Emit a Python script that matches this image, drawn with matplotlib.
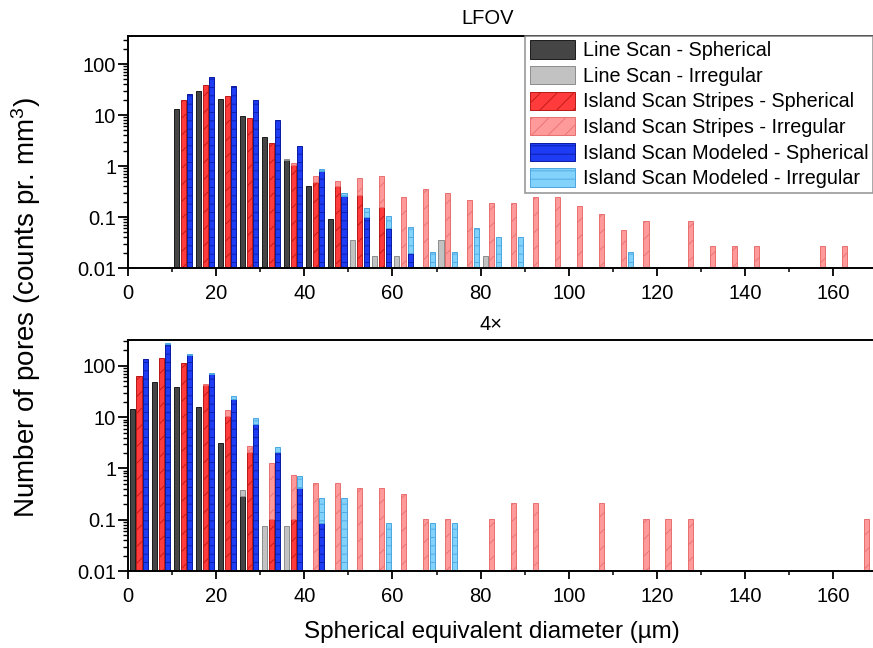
import numpy as np
import matplotlib
matplotlib.use("Agg")
import matplotlib.pyplot as plt
from matplotlib.ticker import LogLocator, FixedLocator, NullFormatter

plt.rcParams['font.family'] = ['Liberation Sans', 'DejaVu Sans']
plt.rcParams['mathtext.default'] = 'regular'
plt.rcParams['hatch.linewidth'] = 0.6

# ---- LFOV panel (5 um bins) ----
lfov_bins = [12.5, 17.5, 22.5, 27.5, 32.5, 37.5, 42.5, 47.5, 52.5, 57.5, 62.5,
             67.5, 72.5, 77.5, 82.5, 87.5, 92.5, 97.5, 102.5, 107.5, 112.5,
             117.5, 122.5, 127.5, 132.5, 137.5, 142.5, 147.5, 152.5, 157.5, 162.5]
lfov_line_sph = [12.9, 30, 20.4, 9.8, 3.7, 1.3, 0.41, 0.09, 0, 0, 0,
                 0, 0, 0, 0, 0, 0, 0, 0, 0, 0,
                 0, 0, 0, 0, 0, 0, 0, 0, 0, 0]
lfov_line_irr = [0, 0, 0, 0, 0, 0.07, 0, 0, 0.035, 0.017, 0.017,
                 0, 0.035, 0, 0.017, 0, 0, 0, 0, 0, 0,
                 0, 0, 0, 0, 0, 0, 0, 0, 0, 0]
lfov_stripes_sph = [19.6, 39, 23.4, 8.9, 2.8, 1.05, 0.48, 0.40, 0.27, 0.16, 0,
                    0, 0, 0, 0, 0, 0, 0, 0, 0, 0,
                    0, 0, 0, 0, 0, 0, 0, 0, 0, 0]
lfov_stripes_irr = [0, 0, 0, 0, 0, 0.08, 0.15, 0.12, 0.32, 0.49, 0.25,
                    0.355, 0.30, 0.215, 0.19, 0.19, 0.25, 0.25, 0.164, 0.113, 0.056,
                    0.083, 0, 0.083, 0.027, 0.027, 0.027, 0, 0, 0.027, 0.027]
lfov_modeled_sph = [25.4, 55, 37.6, 19.4, 7.9, 2.5, 0.80, 0.26, 0.10, 0.06, 0.02,
                    0, 0, 0, 0, 0, 0, 0, 0, 0, 0,
                    0, 0, 0, 0, 0, 0, 0, 0, 0, 0]
lfov_modeled_irr = [0, 0, 0, 0, 0, 0, 0.07, 0.03, 0.048, 0.045, 0.043,
                    0.021, 0.021, 0.062, 0.041, 0.041, 0, 0, 0, 0, 0.021,
                    0, 0, 0, 0, 0, 0, 0, 0, 0, 0]

# ---- 4x panel ----
x4_bins = [2.5, 7.5, 12.5, 17.5, 22.5, 27.5, 32.5, 37.5, 42.5, 47.5, 52.5,
           57.5, 62.5, 67.5, 72.5, 77.5, 82.5, 87.5, 92.5, 97.5, 102.5,
           107.5, 112.5, 117.5, 122.5, 127.5, 132.5, 137.5, 142.5, 147.5, 152.5,
           157.5, 162.5, 167.5]
x4_line_sph = [14.2, 48, 39, 15.7, 3.1, 0.29, 0, 0, 0, 0, 0,
               0, 0, 0, 0, 0, 0, 0, 0, 0, 0,
               0, 0, 0, 0, 0, 0, 0, 0, 0, 0,
               0, 0, 0]
x4_line_irr = [0, 0, 0, 0, 0, 0.09, 0.076, 0.076, 0, 0, 0,
               0, 0, 0, 0, 0, 0, 0, 0, 0, 0,
               0, 0, 0, 0, 0, 0, 0, 0, 0, 0,
               0, 0, 0]
x4_stripes_sph = [63, 144, 112, 42, 10.7, 2.1, 0.103, 0.103, 0, 0, 0,
                  0, 0, 0, 0, 0, 0, 0, 0, 0, 0,
                  0, 0, 0, 0, 0, 0, 0, 0, 0, 0,
                  0, 0, 0]
x4_stripes_irr = [0, 0, 0, 3, 3, 0.7, 1.15, 0.63, 0.53, 0.53, 0.41,
                  0.41, 0.32, 0.105, 0.105, 0, 0.105, 0.21, 0.21, 0, 0,
                  0.21, 0, 0.105, 0.105, 0.105, 0, 0, 0, 0, 0,
                  0, 0, 0.105]
x4_modeled_sph = [138, 265, 162, 68, 23, 7.3, 2.1, 0.42, 0.085, 0, 0,
                  0, 0, 0, 0, 0, 0, 0, 0, 0, 0,
                  0, 0, 0, 0, 0, 0, 0, 0, 0, 0,
                  0, 0, 0]
x4_modeled_irr = [0, 17, 10, 6, 3, 2.2, 0.5, 0.28, 0.175, 0.26, 0,
                  0.085, 0, 0.085, 0.085, 0, 0, 0, 0, 0, 0,
                  0, 0, 0, 0, 0, 0, 0, 0, 0, 0,
                  0, 0, 0]

labels = ['Line Scan - Spherical', 'Line Scan - Irregular',
          'Island Scan Stripes - Spherical', 'Island Scan Stripes - Irregular',
          'Island Scan Modeled - Spherical', 'Island Scan Modeled - Irregular']

# (face, edge, hatch) per series
styles = [('#454545', '#1a1a1a', None),
          ('#c2c2c2', '#8c8c8c', None),
          ('#ff3b3b', '#b81818', '//'),
          ('#ff9a9a', '#e87070', '//'),
          ('#1f3cf5', '#0a1aa0', '--'),
          ('#82d2fb', '#4aa6e0', '--')]

bar_w = 1.15
offsets = [-1.5, 0.0, 1.5]


def draw_panel(ax, bins, series):
    """Stacked (spherical + irregular) bars for the three scan strategies."""
    bins = np.array(bins)
    for k, (sph, irr) in enumerate(series):
        sph = np.array(sph, dtype=float)
        irr = np.array(irr, dtype=float)
        x = bins + offsets[k]
        fc, ec, h = styles[2 * k]
        m = sph > 0
        ax.bar(x[m], sph[m], width=bar_w, color=fc, edgecolor=ec,
               linewidth=0.7, hatch=h, label=labels[2 * k])
        fc, ec, h = styles[2 * k + 1]
        m = irr > 0
        ax.bar(x[m], irr[m], bottom=sph[m], width=bar_w, color=fc, edgecolor=ec,
               linewidth=0.7, hatch=h, label=labels[2 * k + 1])

    ax.set_yscale('log')
    ax.set_xlim(0, 169)
    ax.xaxis.set_major_locator(FixedLocator([0, 20, 40, 60, 80, 100, 120, 140, 160]))
    ax.xaxis.set_minor_locator(FixedLocator([10, 30, 50, 70, 90, 110, 130, 150]))
    ax.yaxis.set_major_locator(FixedLocator([0.01, 0.1, 1, 10, 100]))
    ax.yaxis.set_major_formatter(plt.FuncFormatter(lambda v, p: f'{v:g}'))
    ax.yaxis.set_minor_locator(LogLocator(base=10, subs=np.arange(2, 10)))
    ax.yaxis.set_minor_formatter(NullFormatter())
    ax.tick_params(axis='x', which='major', direction='out', length=5.5,
                   width=1.3, labelsize=14.5, pad=6)
    ax.tick_params(axis='x', which='minor', direction='out', length=3,
                   width=1.1)
    ax.tick_params(axis='y', which='major', direction='out', length=7,
                   width=1.3, labelsize=14.5, pad=1.5)
    ax.tick_params(axis='y', which='minor', direction='out', length=3.5,
                   width=1.0)
    ax.spines['right'].set_visible(False)
    for s in ('left', 'bottom', 'top'):
        ax.spines[s].set_linewidth(1.4)


fig = plt.figure(figsize=(8.73, 6.48), dpi=100)
ax1 = fig.add_axes([0.1466, 0.5864, 0.8534, 0.3580])
ax2 = fig.add_axes([0.1466, 0.1188, 0.8534, 0.3565])

draw_panel(ax1, lfov_bins, [(lfov_line_sph, lfov_line_irr),
                            (lfov_stripes_sph, lfov_stripes_irr),
                            (lfov_modeled_sph, lfov_modeled_irr)])
ax1.set_ylim(0.01, 355)

draw_panel(ax2, x4_bins, [(x4_line_sph, x4_line_irr),
                          (x4_stripes_sph, x4_stripes_irr),
                          (x4_modeled_sph, x4_modeled_irr)])
ax2.set_ylim(0.01, 320)

fig.text(0.559, 1 - 19 / 648, 'LFOV', ha='center', va='center', fontsize=14.5)
fig.text(0.563, 1 - 325 / 648, '4\u00d7', ha='center', va='center', fontsize=14.5)

# legend order: per series spherical then irregular
handles, labs = ax1.get_legend_handles_labels()
order = [labs.index(l) for l in labels]
leg = ax1.legend([handles[i] for i in order], [labs[i] for i in order],
                 loc='upper right', bbox_to_anchor=(1.0, 1.0), borderaxespad=0,
                 fontsize=14.2, frameon=True, fancybox=False, edgecolor='#808080',
                 handlelength=2.3, handleheight=1.05, handletextpad=0.4,
                 labelspacing=0.29, borderpad=0.22)
leg.get_frame().set_linewidth(1.2)

fig.text(0.03, 0.525, 'Number of pores (counts pr. mm$^3$)', rotation=90,
         ha='center', va='center', fontsize=20)
fig.text(0.564, 0.025, 'Spherical equivalent diameter (\u00b5m)', ha='center',
         va='center', fontsize=17.5)

fig.savefig('out.png', dpi=100)
